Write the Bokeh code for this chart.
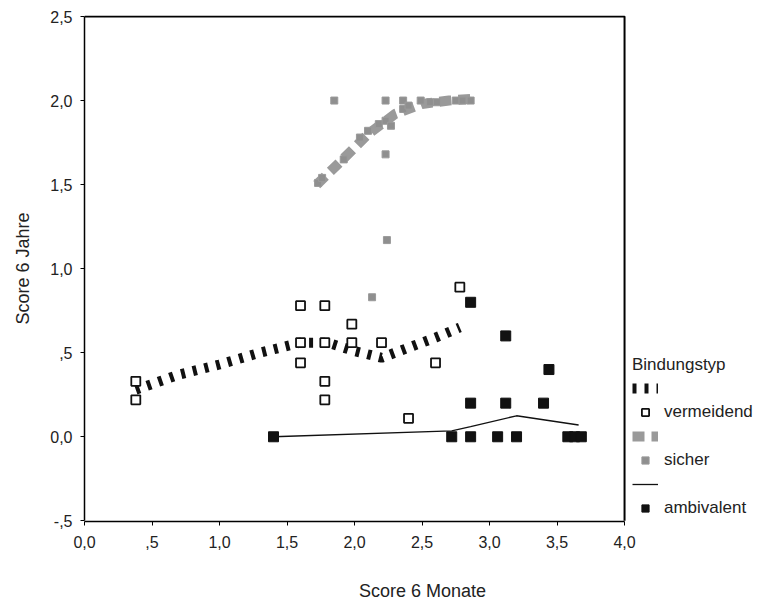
from bokeh.plotting import figure
from bokeh.models import FixedTicker, Legend, LegendItem
from bokeh.embed import file_html
from bokeh.resources import INLINE

# ---- data ----
verm_x = [0.38, 0.38, 1.60, 1.60, 1.60, 1.78, 1.78, 1.78, 1.78, 1.98, 1.98, 2.20, 2.40, 2.60, 2.78]
verm_y = [0.33, 0.22, 0.78, 0.56, 0.44, 0.78, 0.56, 0.33, 0.22, 0.67, 0.56, 0.56, 0.11, 0.44, 0.89]
verm_fit_x = [0.38, 0.70, 1.00, 1.30, 1.60, 1.80, 2.00, 2.20, 2.40, 2.60, 2.78]
verm_fit_y = [0.28, 0.37, 0.43, 0.50, 0.56, 0.56, 0.51, 0.47, 0.53, 0.59, 0.65]

sich_x = [1.85, 2.23, 2.36, 2.49, 2.56, 2.61, 2.75, 2.80, 2.86, 1.73, 1.76, 1.92, 2.04, 2.10, 2.18, 2.23,
          2.27, 2.36, 2.40, 2.23, 2.24, 2.13]
sich_y = [2.00, 2.00, 2.00, 2.00, 1.99, 1.99, 2.00, 2.00, 2.00, 1.51, 1.54, 1.65, 1.78, 1.82, 1.86, 1.88,
          1.85, 1.95, 1.97, 1.68, 1.17, 0.83]
sich_fit_x = [1.72, 1.90, 2.10, 2.30, 2.50, 2.70, 2.86]
sich_fit_y = [1.50, 1.64, 1.80, 1.92, 1.98, 2.00, 2.01]

amb_x = [1.40, 2.72, 2.86, 2.86, 2.86, 3.06, 3.12, 3.12, 3.20, 3.40, 3.44, 3.58, 3.63, 3.68]
amb_y = [0.00, 0.00, 0.00, 0.20, 0.80, 0.00, 0.20, 0.60, 0.00, 0.20, 0.40, 0.00, 0.00, 0.00]
amb_fit_x = [1.40, 2.72, 2.86, 3.20, 3.66]
amb_fit_y = [0.00, 0.035, 0.06, 0.125, 0.07]

x_ticks = [0.0, 0.5, 1.0, 1.5, 2.0, 2.5, 3.0, 3.5, 4.0]
x_tick_labels = ["0,0", ",5", "1,0", "1,5", "2,0", "2,5", "3,0", "3,5", "4,0"]
y_ticks = [-0.5, 0.0, 0.5, 1.0, 1.5, 2.0, 2.5]
y_tick_labels = ["-,5", "0,0", ",5", "1,0", "1,5", "2,0", "2,5"]
x_min, x_max = 0.0, 4.0
y_min, y_max = -0.5, 2.5

FONT = "Liberation Sans"

# the frame reaches to the right page edge; the data area (0..4) ends at 624 px
p = figure(width=764, height=608, x_range=(x_min, 5.007), y_range=(y_min - 0.004, y_max + 0.006),
           output_backend="svg", toolbar_location=None,
           min_border_left=84, min_border_right=4, min_border_top=15, min_border_bottom=87)

p.xgrid.visible = False
p.ygrid.visible = False
p.outline_line_color = None
p.background_fill_color = "white"
p.border_fill_color = "white"

for ax, ticks, labels in ((p.xaxis[0], x_ticks, x_tick_labels), (p.yaxis[0], y_ticks, y_tick_labels)):
    ax.ticker = FixedTicker(ticks=ticks)
    ax.major_label_overrides = {t: l for t, l in zip(ticks, labels)}
    ax.minor_tick_line_color = None
    ax.major_tick_in = 0
    ax.major_tick_out = 4
    ax.axis_line_color = "black"
    ax.axis_line_width = 1.5
    ax.major_tick_line_color = "black"
    ax.major_label_text_font = FONT
    ax.major_label_text_font_size = "16px"
    ax.major_label_text_color = "#222222"
    ax.axis_label_text_font = FONT
    ax.axis_label_text_font_size = "18px"
    ax.axis_label_text_font_style = "normal"
    ax.axis_label_text_color = "#222222"

p.xaxis[0].bounds = (x_min, x_max)
p.yaxis[0].bounds = (y_min, y_max)
p.xaxis.axis_label = "Score 6 Monate"
p.yaxis.axis_label = "Score 6 Jahre"
p.xaxis.major_label_standoff = 10
p.xaxis.axis_label_standoff = 30
p.yaxis.major_label_standoff = 8
p.yaxis.axis_label_standoff = 14

# top and right border of the data box
p.line(x=[x_min, x_max, x_max], y=[y_max, y_max, y_min], line_color="black", line_width=2)

# fit lines
l_v = p.line(verm_fit_x, verm_fit_y, line_color="#111111", line_width=10, line_dash="4 8")
l_s = p.line(sich_fit_x, sich_fit_y, line_color="#9a9a9a", line_width=10, line_dash="12 7")
l_a = p.line(amb_fit_x, amb_fit_y, line_color="#111111", line_width=1.3)

# markers
m_v = p.scatter(verm_x, verm_y, marker="square", size=9, fill_color="white",
                line_color="#111111", line_width=1.8)
m_s = p.scatter(sich_x, sich_y, marker="square", size=7, fill_color="#8f8f8f",
                line_color="#9a9a9a", line_width=1)
m_a = p.scatter(amb_x, amb_y, marker="square", size=10, fill_color="#111111",
                line_color="#111111", line_width=1)

legend = Legend(items=[
    LegendItem(label=" ", renderers=[l_v]),
    LegendItem(label="vermeidend", renderers=[m_v]),
    LegendItem(label=" ", renderers=[l_s]),
    LegendItem(label="sicher", renderers=[m_s]),
    LegendItem(label=" ", renderers=[l_a]),
    LegendItem(label="ambivalent", renderers=[m_a]),
], location=(548, 3))
legend.title = "Bindungstyp"
legend.title_text_font = FONT
legend.title_text_font_size = "17px"
legend.title_text_font_style = "normal"
legend.title_text_color = "#222222"
legend.title_standoff = 4
legend.label_text_font = FONT
legend.label_text_font_size = "17px"
legend.label_text_color = "#222222"
legend.glyph_width = 26
legend.glyph_height = 18
legend.label_height = 18
legend.label_standoff = 6
legend.spacing = 5
legend.padding = 4
legend.margin = 0
legend.border_line_color = None
legend.background_fill_alpha = 0
p.add_layout(legend, "center")

open("out.html", "w").write(file_html(p, INLINE))
